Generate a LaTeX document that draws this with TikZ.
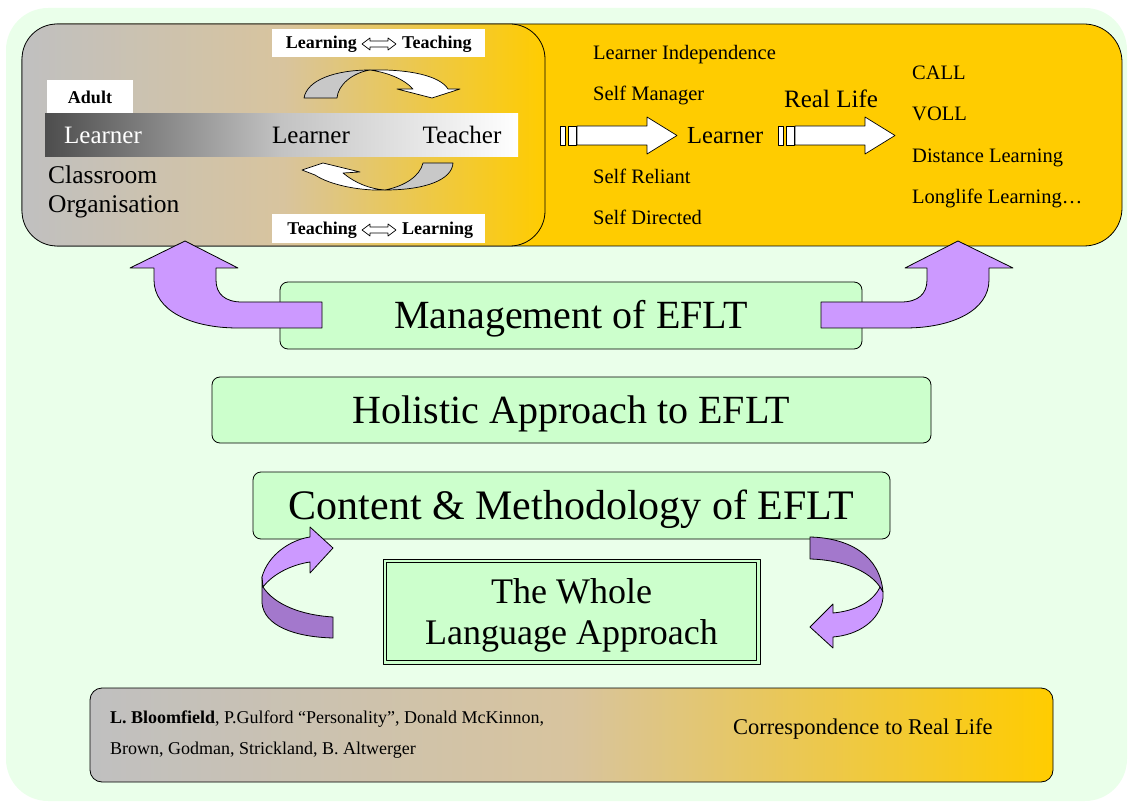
\documentclass[tikz,border=0pt]{standalone}
\usepackage{fontspec}
\setmainfont{Liberation Serif}
\usetikzlibrary{calc}
\definecolor{bggreen}{RGB}{234,255,234}
\definecolor{boxgreen}{RGB}{204,255,204}
\definecolor{goldc}{RGB}{255,204,0}
\definecolor{lgray}{RGB}{192,192,192}
\definecolor{tanc}{RGB}{216,196,158}
\definecolor{plight}{RGB}{204,153,255}
\definecolor{pdark}{RGB}{163,120,204}
\definecolor{dgray}{RGB}{77,77,77}
\definecolor{mgray}{RGB}{195,195,195}
\definecolor{cyclegray}{RGB}{200,200,200}
\newcommand{\fsz}[2]{\fontsize{#1}{#2}\selectfont}
\tikzset{
  ln/.style={draw=black, line width=0.8pt},
  txt/.style={inner sep=0pt, anchor=base west},
  ctxt/.style={inner sep=0pt, anchor=base},
  greenbox/.style={ln, fill=boxgreen, rounded corners=8pt, inner sep=0pt},
  hollowarrow/.pic={
    \draw[line width=0.7pt, fill=white] (-17,0) -- (-9,-6) -- (-9,-3) -- (9,-3) -- (9,-6) -- (17,0)
      -- (9,6) -- (9,3) -- (-9,3) -- (-9,6) -- cycle;
  },
  blockarrow/.pic={
    \draw[line width=0.7pt, fill=white] (0,0) rectangle (5,19);
    \draw[line width=0.7pt, fill=white] (8,0) rectangle (16,19);
    \draw[line width=0.7pt, fill=white] (17,0) -- (87,0) -- (87,-9) -- (117,9.5) -- (87,28)
      -- (87,19) -- (17,19) -- cycle;
  }
}
\begin{document}
\begin{tikzpicture}[x=1pt,y=-1pt,line join=round]
\useasboundingbox (0,0) rectangle (1128,805);
\fill[bggreen, rounded corners=42pt] (6,8) rectangle (1127,801);

% top panels
\node[ln, fill=goldc, rounded corners=38pt, minimum width=1100pt, minimum height=222pt, inner sep=0pt] (rightpanel) at (572,135) {};
\node[ln, rounded corners=35pt, left color=lgray, right color=goldc, middle color=tanc, minimum width=523pt, minimum height=222pt, inner sep=0pt] (leftpanel) at (283.5,135) {};

% left panel content
\node[fill=white, minimum width=213pt, minimum height=28pt, inner sep=0pt] (lt1) at (378.5,43.5) {};
\node[inner sep=0pt, anchor=east, font=\fsz{18}{21}\bfseries] (lt1a) at (357,44) {Learning};
\pic at (379,44) {hollowarrow};
\node[inner sep=0pt, anchor=west, font=\fsz{18}{21}\bfseries] (lt1b) at (402,44) {Teaching};

\node[fill=white, minimum width=213pt, minimum height=29pt, inner sep=0pt] (lt2) at (378.5,229) {};
\node[inner sep=0pt, anchor=east, font=\fsz{18}{21}\bfseries] (lt2a) at (357,230) {Teaching};
\pic at (379,230) {hollowarrow};
\node[inner sep=0pt, anchor=west, font=\fsz{18}{21}\bfseries] (lt2b) at (402,230) {Learning};

\node[fill=white, minimum width=86pt, minimum height=34pt, inner sep=0pt, font=\fsz{18}{21}\bfseries] (adult) at (90,97) {Adult};
\node[inner sep=0pt, minimum width=473pt, minimum height=43pt, left color=dgray, right color=white, middle color=mgray] (bar) at (281.5,135.5) {};
\node[ctxt, text=white, font=\fsz{25}{29}] (l1) at (103,144) {Learner};
\node[ctxt, font=\fsz{25}{29}] (l2) at (311,144) {Learner};
\node[ctxt, font=\fsz{25}{29}] (t1) at (462,144) {Teacher};
\node[txt, font=\fsz{25.5}{29}] (cls) at (48,184) {Classroom};
\node[txt, font=\fsz{25.5}{29}] (org) at (48,213) {Organisation};

% cycle arrows
\draw[line width=0.7pt, fill=cyclegray] (304,98) .. controls (307,80) and (335,70) .. (370,70)
  .. controls (352,73) and (338,85) .. (337,98) -- cycle;
\draw[line width=0.7pt, fill=white] (370,70) .. controls (410,69) and (440,76) .. (448,89)
  -- (460,89) -- (432,98) -- (397,89) -- (413,89) .. controls (405,80) and (390,73) .. (370,70) -- cycle;
\draw[line width=0.7pt, fill=cyclegray] (423,163) -- (453,163) .. controls (452,180) and (425,190) .. (385,190)
  .. controls (405,186) and (420,176) .. (423,163) -- cycle;
\draw[line width=0.7pt, fill=white] (302,170) -- (323,163) -- (360,172) -- (343,173)
  .. controls (355,183) and (370,189) .. (385,190) .. controls (360,191) and (330,185) .. (315,175) -- cycle;

% right panel content
\node[txt, font=\fsz{20.5}{24}] (li) at (593,60) {Learner Independence};
\node[txt, font=\fsz{20.5}{24}] (sm) at (593,101) {Self Manager};
\node[txt, font=\fsz{20.5}{24}] (sr) at (593,184) {Self Reliant};
\node[txt, font=\fsz{20.5}{24}] (sd) at (593,225) {Self Directed};
\pic at (560,126) {blockarrow};
\node[txt, font=\fsz{24.5}{28}] (lrn) at (687,144) {Learner};
\pic at (778,126) {blockarrow};
\node[txt, font=\fsz{25}{29}] (rl) at (784,108) {Real Life};
\node[txt, font=\fsz{20.5}{24}] (call) at (912,80) {CALL};
\node[txt, font=\fsz{20.5}{24}] (voll) at (912,121) {VOLL};
\node[txt, font=\fsz{20.5}{24}] (dl) at (912,163) {Distance Learning};
\node[txt, font=\fsz{20.5}{24}] (ll) at (912,204) {Longlife Learning…};

% middle boxes
\node[greenbox, minimum width=582pt, minimum height=67pt] (mgmt) at (571,315.5) {};
\node[ctxt, font=\fsz{40}{46}] at (571,328) {Management of EFLT};
% purple arrows from the management box up to the two panels
\draw[ln, fill=plight] (322,302) -- (242,302) .. controls (225,302) and (216,294) .. (216,280)
  -- (216,268) -- (238,268) -- (185,241) -- (130,268) -- (154,268) -- (154,280)
  .. controls (154,310) and (190,328) .. (238,328) -- (322,328) -- cycle;
\draw[ln, fill=plight] (821,302) -- (901,302) .. controls (918,302) and (927,294) .. (927,280)
  -- (927,268) -- (905,268) -- (958,241) -- (1013,268) -- (989,268) -- (989,280)
  .. controls (989,310) and (953,328) .. (905,328) -- (821,328) -- cycle;

\node[greenbox, minimum width=719pt, minimum height=66pt] (hol) at (571.5,410) {};
\node[ctxt, font=\fsz{40}{46}] at (571.5,423) {Holistic Approach to EFLT};

\node[greenbox, minimum width=637pt, minimum height=67pt] (cont) at (571.5,505.5) {};
\node[ctxt, font=\fsz{42}{48}] at (571.5,519) {Content \& Methodology of EFLT};

\node[ln, fill=boxgreen, minimum width=377pt, minimum height=105pt, inner sep=0pt] (whole) at (571.5,611.5) {};
\draw[line width=0.8pt] ($(whole.north west)+(4,4)$) rectangle ($(whole.south east)+(-4,-4)$);
\node[ctxt, font=\fsz{36}{42}] at (571.5,603) {The Whole};
\node[ctxt, font=\fsz{36}{42}] at (571.5,644) {Language Approach};

% curved purple arrows around the whole language box
\draw[ln, fill=pdark] (262,577) -- (262,603) .. controls (264,626) and (295,637) .. (333,638)
  -- (333,617) .. controls (300,615) and (274,604) .. (263,587) -- cycle;
\draw[ln, fill=plight] (262,577) .. controls (268,555) and (290,540) .. (310,537)
  -- (310,527) -- (333,548) -- (310,573) -- (310,562)
  .. controls (290,565) and (272,575) .. (263,587) -- cycle;
\draw[ln, fill=pdark] (810,537) .. controls (850,538) and (880,556) .. (883,592)
  -- (880,587) .. controls (870,572) and (845,560) .. (810,559) -- cycle;
\draw[ln, fill=plight] (883,598) .. controls (880,621) and (858,635) .. (833,637)
  -- (833,648) -- (810,627) -- (833,604) -- (833,613)
  .. controls (855,611) and (873,602) .. (880,587) -- (883,592) -- cycle;

% bottom box
\node[ln, rounded corners=12pt, left color=lgray, right color=goldc, middle color=tanc, minimum width=963pt, minimum height=94pt, inner sep=0pt] (bottom) at (571.5,735) {};
\node[txt, font=\fsz{18}{21}] (refs1) at (110,723) {\textbf{L. Bloomfield}, P.Gulford “Personality”, Donald McKinnon,};
\node[txt, font=\fsz{18}{21}] (refs2) at (110,754) {Brown, Godman, Strickland, B. Altwerger};
\node[txt, font=\fsz{22.5}{26}] (corr) at (733,734) {Correspondence to Real Life};
\end{tikzpicture}
\end{document}
